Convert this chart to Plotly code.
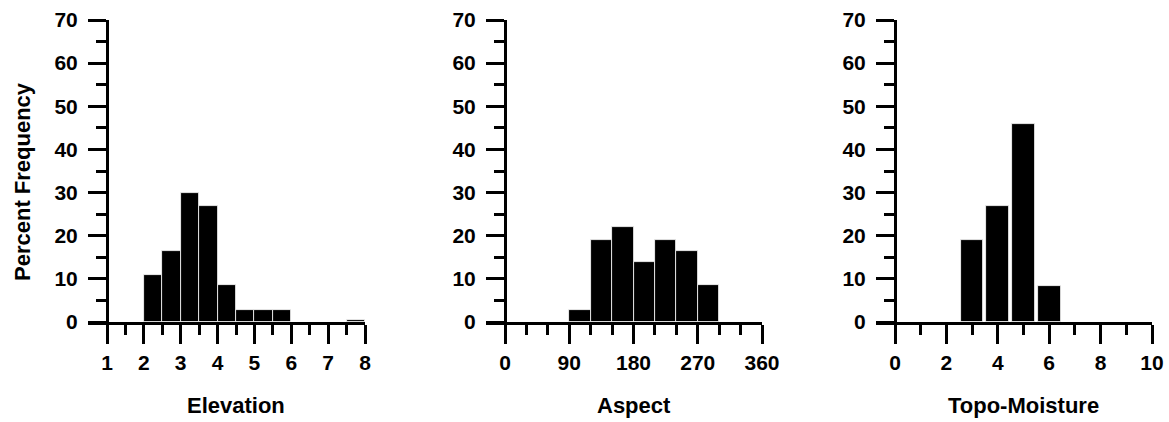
import plotly.graph_objects as go

# ---- data ----
elev_centers = [1.25, 1.75, 2.25, 2.75, 3.25, 3.75, 4.25, 4.75, 5.25, 5.75, 6.25, 6.75, 7.25, 7.75]
elev_pct = [0, 0, 11, 16.5, 30, 27, 8.5, 2.7, 2.7, 2.7, 0, 0, 0, 0.4]

aspect_centers = [105, 135, 165, 195, 225, 255, 285]
aspect_pct = [2.7, 19, 22, 14, 19, 16.5, 8.5]

topo_centers = [3, 4, 5, 6]
topo_pct = [19, 27, 46, 8.3]

y_ticks = [0, 10, 20, 30, 40, 50, 60, 70]
y_minor = [5, 15, 25, 35, 45, 55, 65]

elev_ticks = [1, 2, 3, 4, 5, 6, 7, 8]
elev_minor = [1.5, 2.5, 3.5, 4.5, 5.5, 6.5, 7.5]
aspect_ticks = [0, 90, 180, 270, 360]
aspect_minor = [30, 60, 120, 150, 210, 240, 300, 330]
topo_ticks = [0, 2, 4, 6, 8, 10]
topo_minor = [1, 3, 5, 7, 9]

titles = ["Elevation", "Aspect", "Topo-Moisture"]

W, H = 1169, 422
FONT = "Liberation Sans, Arial, sans-serif"
FS = 21
FS_T = 22

# pixel geometry of each panel: (y-axis x, right end x, data min, data max)
panels = [
    (107, 365, 1, 8),
    (505, 762, 0, 360),
    (895, 1152, 0, 10),
]
EXT = 19  # x-axis line extends left of the y-axis by this many px
top_px, bot_px = 20, 322


def px(x):
    return x / W


def py(y):
    return 1 - y / H


fig = go.Figure()

series = [
    (elev_centers, elev_pct, 0.5, elev_ticks, elev_minor),
    (aspect_centers, aspect_pct, 30, aspect_ticks, aspect_minor),
    (topo_centers, topo_pct, 0.88, topo_ticks, topo_minor),
]

for i, ((yx, rx, d0, d1), (xc, yv, w, tv, mv)) in enumerate(zip(panels, series)):
    n = "" if i == 0 else str(i + 1)
    scale = (rx - yx) / (d1 - d0)
    lo = d0 - EXT / scale
    fig.add_trace(go.Bar(
        x=xc, y=yv, width=w,
        marker=dict(color="black", line=dict(color="white", width=0.8)),
        xaxis="x" + n, yaxis="y" + n, showlegend=False,
    ))
    fig.layout["xaxis" + n] = dict(
        domain=[px(yx - EXT), px(rx)], range=[lo, d1],
        anchor="y" + n, showline=True, linecolor="black", linewidth=3,
        showgrid=False, zeroline=False, automargin=False,
        tickmode="array", tickvals=tv, ticktext=[str(t) for t in tv],
        ticks="outside", ticklen=19, tickwidth=3, tickcolor="black",
        minor=dict(tickmode="array", tickvals=mv, ticks="outside",
                   ticklen=10, tickwidth=3, tickcolor="black", showgrid=False),
        tickfont=dict(family=FONT, size=FS, color="black", weight="bold"),
        ticklabelstandoff=1,
    )
    fig.layout["yaxis" + n] = dict(
        domain=[py(bot_px), py(top_px)], range=[0, 70],
        anchor="free", position=px(yx),
        showline=True, linecolor="black", linewidth=3,
        showgrid=False, zeroline=False, automargin=False,
        tickmode="array", tickvals=y_ticks,
        ticks="outside", ticklen=18, tickwidth=3, tickcolor="black",
        minor=dict(tickmode="array", tickvals=y_minor, ticks="outside",
                   ticklen=10, tickwidth=3, tickcolor="black", showgrid=False),
        tickfont=dict(family=FONT, size=FS, color="black", weight="bold"),
        ticklabelstandoff=6,
    )
    fig.add_annotation(
        text=titles[i], xref="x" + n, x=(d0 + d1) / 2, yref="paper",
        y=py(405), showarrow=False, xanchor="center", yanchor="middle",
        font=dict(family=FONT, size=FS_T, color="black", weight="bold"),
    )

fig.add_annotation(
    text="Percent Frequency", xref="paper", x=px(22), yref="paper",
    y=py(182), textangle=-90, showarrow=False,
    xanchor="center", yanchor="middle",
    font=dict(family=FONT, size=FS_T, color="black", weight="bold"),
)

fig.update_layout(
    template="none",
    width=W, height=H, margin=dict(l=0, r=0, t=0, b=0, autoexpand=False),
    paper_bgcolor="white", plot_bgcolor="white", bargap=0,
)

fig.write_html(
    "out.html",
    config={"displayModeBar": False},
    post_script="document.body.style.margin='0';document.body.style.overflow='hidden';",
)
